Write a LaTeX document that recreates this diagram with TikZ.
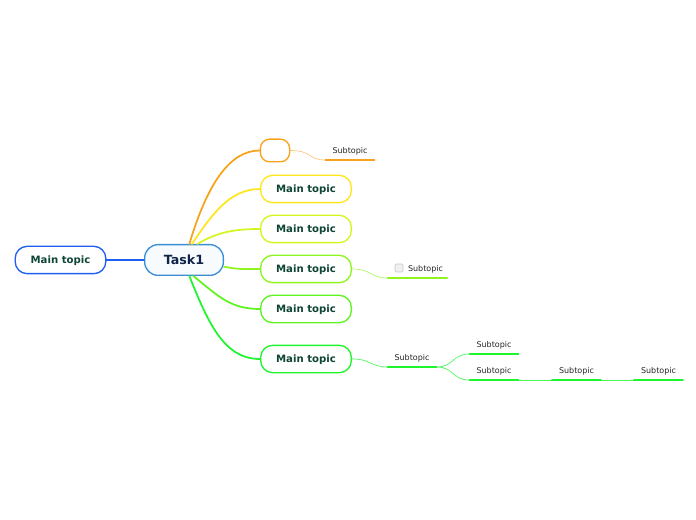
\documentclass[tikz,border=0pt]{standalone}
\usepackage{fontspec}
\setmainfont{DejaVu Sans}
\usepackage{tikz}
\usetikzlibrary{arrows.meta}
\usepackage{xcolor}
\definecolor{cleft}{HTML}{1F5EF2}
\definecolor{ctask}{HTML}{3A8ED6}
\definecolor{taskfill}{HTML}{F8FBFE}
\definecolor{tasktext}{HTML}{0E2448}
\definecolor{topictext}{HTML}{0E4535}
\definecolor{corange}{HTML}{F7A21B}
\definecolor{cyellow}{HTML}{FFE61C}
\definecolor{cyg}{HTML}{D6F51E}
\definecolor{clime}{HTML}{8EF51E}
\definecolor{cgreen}{HTML}{5EF51E}
\definecolor{cgreen2}{HTML}{1EF52E}

\begin{document}
\begin{tikzpicture}[x=0.75pt,y=-0.75pt,line cap=round,
  topic/.style={draw,line width=1pt,rounded corners=9pt,minimum width=68pt,minimum height=20.5pt,
    fill=white,text=topictext,text depth=0pt,font=\fontsize{7.6}{9}\selectfont\bfseries},
  sub/.style={anchor=south,minimum width=36pt,inner xsep=0pt,inner ysep=3.6pt,
    font=\fontsize{6}{7}\selectfont,text=black!85},
  branch/.style={line width=1.3pt},
  twig/.style={line width=0.5pt}]
\useasboundingbox (0,0) rectangle (696,520);

% main topics
\node[topic,draw=cleft] (left) at (60.5,260) {Main topic};
\node[topic,draw=ctask,fill=taskfill,text=tasktext,minimum width=59pt,minimum height=23pt,
  rounded corners=10pt,font=\fontsize{9.5}{11}\selectfont\bfseries] (task) at (184,260) {Task1};
\node[topic,draw=corange,minimum width=22pt,minimum height=17pt,rounded corners=7pt] (t1) at (275,150.5) {};
\node[topic,draw=cyellow] (t2) at (306,189) {Main topic};
\node[topic,draw=cyg] (t3) at (306,229) {Main topic};
\node[topic,draw=clime] (t4) at (306,269) {Main topic};
\node[topic,draw=cgreen] (t5) at (306,309) {Main topic};
\node[topic,draw=cgreen2] (t6) at (306,359) {Main topic};

% subtopics
\node[sub] (s1) at (350,160) {Subtopic};
\node[sub,minimum width=44pt] (s4) at (417.5,278) {\hspace*{12pt}Subtopic};
\node[draw=gray!45,fill=gray!12,rounded corners=1pt,minimum size=6pt,inner sep=0pt] (cb) at (399,268) {};
\node[sub] (s6) at (412,367) {Subtopic};
\node[sub] (s6a) at (494,354) {Subtopic};
\node[sub] (s6b) at (494,380) {Subtopic};
\node[sub] (s6c) at (576.5,380) {Subtopic};
\node[sub] (s6d) at (658.5,380) {Subtopic};

% branches
\draw[line width=0.8pt,cleft] (task.west) -- (left.east);
\draw[branch,corange] ([xshift=4pt]task.north) .. controls +(18,-60) and +(-30,0) .. (t1.west);
\draw[branch,cyellow] ([xshift=6pt]task.north) .. controls +(20,-30) and +(-30,0) .. (t2.west);
\draw[branch,cyg] ([xshift=10pt]task.north) .. controls +(20,-12) and +(-25,0) .. (t3.west);
\draw[branch,clime] ([yshift=-5pt]task.east) .. controls +(15,3) and +(-15,0) .. (t4.west);
\draw[branch,cgreen] ([xshift=7pt]task.south) .. controls +(25,20) and +(-30,0) .. (t5.west);
\draw[branch,cgreen2] ([xshift=4pt]task.south) .. controls +(20,50) and +(-35,0) .. (t6.west);

% twigs
\draw[twig,corange!60] (t1.east) .. controls +(22,0) and +(-18,0) .. (s1.south west);
\draw[twig,clime!70] (t4.east) .. controls +(20,0) and +(-18,0) .. (s4.south west);
\draw[twig,cgreen2!80] (t6.east) .. controls +(20,0) and +(-18,0) .. (s6.south west);
\draw[twig,cgreen2!80] (s6.south east) .. controls +(18,0) and +(-18,0) .. (s6a.south west);
\draw[twig,cgreen2!80] (s6.south east) .. controls +(18,0) and +(-18,0) .. (s6b.south west);
\draw[twig,cgreen2!80] (s6b.south east) -- (s6c.south west);
\draw[twig,cgreen2!80] (s6c.south east) -- (s6d.south west);

% underlines
\foreach \s/\c in {s1/corange,s4/clime,s6/cgreen2,s6a/cgreen2,s6b/cgreen2,s6c/cgreen2,s6d/cgreen2}
  \draw[line width=1.5pt,\c] (\s.south west) -- (\s.south east);
\end{tikzpicture}
\end{document}
